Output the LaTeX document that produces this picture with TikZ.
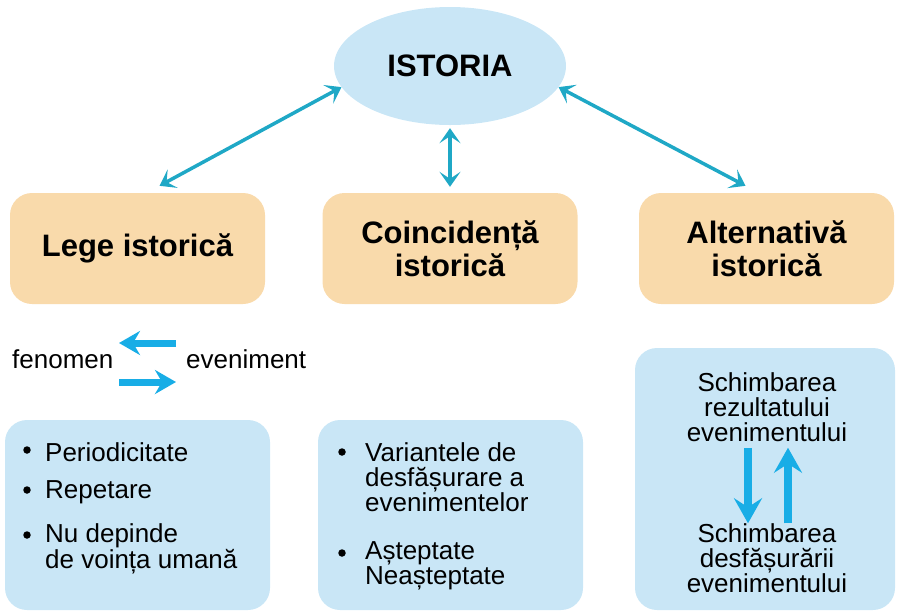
\documentclass[tikz,border=0pt]{standalone}
\usepackage{fontspec}
\setmainfont{Liberation Sans}
\usetikzlibrary{arrows.meta,shapes.geometric}
\definecolor{peach}{HTML}{F9DAAB}
\definecolor{lblue}{HTML}{C9E6F6}
\definecolor{tealA}{HTML}{1FA8C6}
\definecolor{cyanA}{HTML}{18ADE6}
\begin{document}
\begin{tikzpicture}[x=1pt,y=-1pt,
  head/.style={fill=peach, rounded corners=22pt, minimum width=255pt, minimum height=111pt,
    font=\bfseries\fontsize{31}{33}\selectfont, align=center, inner sep=0pt},
  panel/.style={fill=lblue, rounded corners=22pt, inner sep=0pt},
  body/.style={font=\fontsize{26}{25}\selectfont, inner sep=0pt},
  dot/.style={circle, fill=black, inner sep=0pt, minimum size=7.5pt},
  link/.style={draw=tealA, line width=3.5pt, {Stealth[length=15pt,width=21pt,inset=7pt]}-{Stealth[length=15pt,width=21pt,inset=7pt]}},
  fat/.style={draw=cyanA, line width=7pt, -{Stealth[length=21pt,width=24pt,inset=7pt]}},
  fatv/.style={draw=cyanA, line width=8pt, -{Stealth[length=25pt,width=28pt,inset=9pt]}}]
\useasboundingbox (0,0) rectangle (897,614);
% top ellipse
\node[ellipse, fill=lblue, minimum width=232pt, minimum height=118pt, inner sep=0pt,
  font=\bfseries\fontsize{31}{31}\selectfont] (ist) at (450,66) {ISTORIA};
% headers
\node[head] (lege) at (137.5,248.5) {Lege istorică};
\node[head] (coinc) at (450,248.5) {Coincidență\\istorică};
\node[head] (alt) at (766.5,248.5) {Alternativă\\istorică};
% connectors
\draw[link] (ist.191) -- ([xshift=22pt,yshift=7pt]lege.north);
\draw[link] ([yshift=-3pt]ist.south) -- ([yshift=6pt]coinc.north);
\draw[link] (ist.-11) -- ([xshift=-21pt,yshift=7pt]alt.north);
% fenomen / eveniment
\node[body, anchor=base west] (fen) at (12,368) {fenomen};
\node[body, anchor=base west] (eve) at (186,368) {eveniment};
\coordinate (fa1) at (176,343);
\coordinate (fa2) at (119,343);
\coordinate (fb1) at (119,382);
\coordinate (fb2) at (176,382);
\draw[fat] (fa1) -- (fa2);
\draw[fat] (fb1) -- (fb2);
% panels
\path[panel] (5,420) rectangle (270,610);
\path[panel] (318,420) rectangle (583,610);
\path[panel] (635,348) rectangle (895,610);
% panel 1
\node[dot] (d1) at (27,450) {};
\node[body, anchor=west] (p1) at (45,452) {Periodicitate};
\node[dot] (d2) at (27,490) {};
\node[body, anchor=west] (p2) at (45,492) {Repetare};
\node[dot] (d3) at (27,535) {};
\node[body, anchor=west, align=left, font=\fontsize{26}{26}\selectfont] (p3) at (45,548.5) {Nu depinde\\de voința umană};
% panel 2
\node[dot] (d4) at (342,452) {};
\node[body, anchor=west, align=left] (q1) at (365,477) {Variantele de\\desfășurare a\\evenimentelor};
\node[dot] (d5) at (342,553) {};
\node[body, anchor=west, align=left] (q2) at (365,565.5) {Așteptate\\Neașteptate};
% panel 3
\node[body, align=center] (r1) at (767,407) {Schimbarea\\rezultatului\\evenimentului};
\node[body, align=center] (r2) at (767,558) {Schimbarea\\desfășurării\\evenimentului};
\draw[fatv] ([xshift=-19pt,yshift=-6pt]r1.south) -- ([xshift=-19pt,yshift=0pt]r2.north);
\draw[fatv] ([xshift=21pt,yshift=0pt]r2.north) -- ([xshift=21pt,yshift=-6pt]r1.south);
\end{tikzpicture}
\end{document}
